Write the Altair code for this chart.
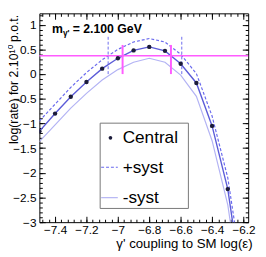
import altair as alt
import pandas as pd

# ---- data ----
coupling = [-7.5, -7.4, -7.3, -7.2, -7.1, -7.0, -6.9, -6.8, -6.7, -6.6, -6.5, -6.4, -6.3, -6.2]
central = [-1.16, -0.80, -0.46, -0.16, 0.11, 0.32, 0.48, 0.55, 0.47, 0.21, -0.18, -1.05, -2.33, -4.5]
plus_syst = [-0.95, -0.61, -0.27, 0.03, 0.29, 0.50, 0.65, 0.72, 0.65, 0.40, 0.01, -0.85, -2.10, -4.2]
minus_syst = [-1.37, -1.03, -0.69, -0.39, -0.12, 0.09, 0.24, 0.32, 0.24, -0.02, -0.45, -1.35, -2.65, -4.8]

threshold = [0.37]
magenta_x = [-6.97, -6.662]
magenta_y0 = [0.0, 0.0]
magenta_y1 = [0.59, 0.59]
blue_x = [-7.062, -6.593]
blue_y0 = [0.0, 0.0]
blue_y1 = [0.79, 0.79]

x_major = [-7.4, -7.2, -7.0, -6.8, -6.6, -6.4, -6.2]
y_major = [-3, -2.5, -2, -1.5, -1, -0.5, 0, 0.5, 1]
x_minor = [round(-7.48 + 0.04 * i, 2) for i in range(33)]
y_minor = [round(-3 + 0.1 * i, 1) for i in range(43)]

W, H = 213, 213
FONT = "Liberation Sans"

df = pd.DataFrame({"x": coupling, "central": central, "plus": plus_syst, "minus": minus_syst})
df_mag = pd.DataFrame({"x": magenta_x, "y0": magenta_y0, "y1": magenta_y1})
df_blue = pd.DataFrame({"x": blue_x, "y0": blue_y0, "y1": blue_y1})
df_h = pd.DataFrame({"y": threshold})
one = pd.DataFrame({"a": [0]})

xs = alt.Scale(domain=[-7.5, -6.17], nice=False, zero=False)
ys = alt.Scale(domain=[-3, 1.23], nice=False, zero=False)


def tick_axis(orient, values, size, off):
    return alt.Axis(orient=orient, offset=off, values=values, tickSize=size, labels=False,
                    domain=False, grid=False, ticks=True, tickColor="black", tickWidth=1)


main_x_axis = alt.Axis(orient="bottom", values=x_major, format="~g", ticks=False, domain=False,
                       grid=False, labelPadding=3, labelFontSize=12, labelFlush=False,
                       labelOverlap=False, labelColor="black",
                       title="γ' coupling to SM log(ε)", titleFontSize=13.5, titleFontWeight="normal",
                       titleAlign="right", titleX=217, titleY=26, titleBaseline="alphabetic",
                       titleColor="black")
main_y_axis = alt.Axis(orient="left", values=y_major, format="~g", ticks=False, domain=False,
                       grid=False, labelPadding=3.5, labelFontSize=12, labelFlush=False,
                       labelOverlap=False, labelColor="black",
                       title="log(rate) for 2.10¹⁰ p.o.t.", titleFontSize=12.5,
                       titleFontWeight="normal", titleAngle=270, titleAlign="right",
                       titleX=-22, titleY=1, titleBaseline="alphabetic", titleColor="black")

minus_layer = alt.Chart(df).mark_line(color="#b3b3f4", strokeWidth=1.2, clip=True).encode(
    x=alt.X("x:Q", scale=xs, axis=main_x_axis),
    y=alt.Y("minus:Q", scale=ys, axis=main_y_axis),
)

plus_layer = alt.Chart(df).mark_line(color="#6a6aee", strokeWidth=1.2, strokeDash=[3, 2], clip=True).encode(
    x=alt.X("x:Q", scale=xs, title=None, axis=tick_axis("top", x_major, 6, -H)),
    y=alt.Y("plus:Q", scale=ys, title=None, axis=tick_axis("right", y_major, 6, -W)),
)

central_layer = alt.Chart(df).mark_line(color="#5c5cd8", strokeWidth=1.4, clip=True).encode(
    x=alt.X("x:Q", scale=xs, title=None, axis=tick_axis("bottom", x_major, 6, -H)),
    y=alt.Y("central:Q", scale=ys, title=None, axis=tick_axis("left", y_major, 6, -W)),
)

points_layer = alt.Chart(df).mark_point(filled=True, shape="circle", size=20, color="#1c1c3a",
                                        opacity=1, clip=True).encode(
    x=alt.X("x:Q", scale=xs, title=None, axis=tick_axis("top", x_minor, 3, -H)),
    y=alt.Y("central:Q", scale=ys, title=None, axis=tick_axis("right", y_minor, 3, -W)),
)

mag_layer = alt.Chart(df_mag).mark_rule(color="#ff5cff", strokeWidth=2).encode(
    x=alt.X("x:Q", scale=xs, title=None, axis=tick_axis("bottom", x_minor, 3, -H)),
    y=alt.Y("y0:Q", scale=ys, title=None, axis=tick_axis("left", y_minor, 3, -W)),
    y2="y1:Q",
)

blue_layer = alt.Chart(df_blue).mark_rule(color="#6a6aee", strokeWidth=1, strokeDash=[3, 2]).encode(
    x=alt.X("x:Q", scale=xs, axis=None),
    y=alt.Y("y0:Q", scale=ys, axis=None),
    y2="y1:Q",
)

hline_layer = alt.Chart(df_h).mark_rule(color="#ff5cff", strokeWidth=1.6).encode(
    y=alt.Y("y:Q", scale=ys, axis=None),
)

# ---- annotation: m_γ' = 2.100 GeV ----
txt_m = alt.Chart(one).mark_text(text="m", font=FONT, fontSize=12.5, fontWeight="bold",
                                 align="left", baseline="alphabetic", color="black").encode(
    x=alt.value(13), y=alt.value(20.5))
txt_sub = alt.Chart(one).mark_text(text="γ'", font=FONT, fontSize=8.5, fontWeight="bold",
                                   align="left", baseline="alphabetic", color="black").encode(
    x=alt.value(24), y=alt.value(23.5))
txt_val = alt.Chart(one).mark_text(text="= 2.100 GeV", font=FONT, fontSize=12.5, fontWeight="bold",
                                   align="left", baseline="alphabetic", color="black").encode(
    x=alt.value(34), y=alt.value(20.5))

# ---- legend box ----
leg_box = alt.Chart(one).mark_rect(fill="white", stroke="#777777", strokeWidth=1).encode(
    x=alt.value(62), x2=alt.value(152), y=alt.value(112), y2=alt.value(199))
leg_dot = alt.Chart(one).mark_point(filled=True, shape="circle", size=14, color="#1c1c3a", opacity=1).encode(
    x=alt.value(72.5), y=alt.value(127))
leg_plus = alt.Chart(one).mark_rule(color="#6a6aee", strokeWidth=1.2, strokeDash=[3, 2]).encode(
    x=alt.value(63), x2=alt.value(80), y=alt.value(157))
leg_minus = alt.Chart(one).mark_rule(color="#b3b3f4", strokeWidth=1.2).encode(
    x=alt.value(63), x2=alt.value(80), y=alt.value(188))


def leg_text(t, yy):
    return alt.Chart(one).mark_text(text=t, font=FONT, fontSize=17.5, align="left",
                                    baseline="middle", color="black").encode(
        x=alt.value(85), y=alt.value(yy))


chart = alt.layer(
    minus_layer, plus_layer, central_layer, hline_layer, mag_layer, blue_layer, points_layer,
    txt_m, txt_sub, txt_val,
    leg_box, leg_dot, leg_plus, leg_minus,
    leg_text("Central", 127.5), leg_text("+syst", 157.5), leg_text("-syst", 188.5),
).resolve_axis(
    x="independent", y="independent"
).properties(
    width=W, height=H,
    autosize=alt.AutoSizeParams(type="none"),
    padding={"left": 32, "top": 3, "right": 10, "bottom": 30},
).configure_view(
    stroke="black", strokeWidth=1
).configure_axis(
    labelFont=FONT, titleFont=FONT, grid=False
)

chart.save("out.html", embed_options={"renderer": "svg", "actions": False})
